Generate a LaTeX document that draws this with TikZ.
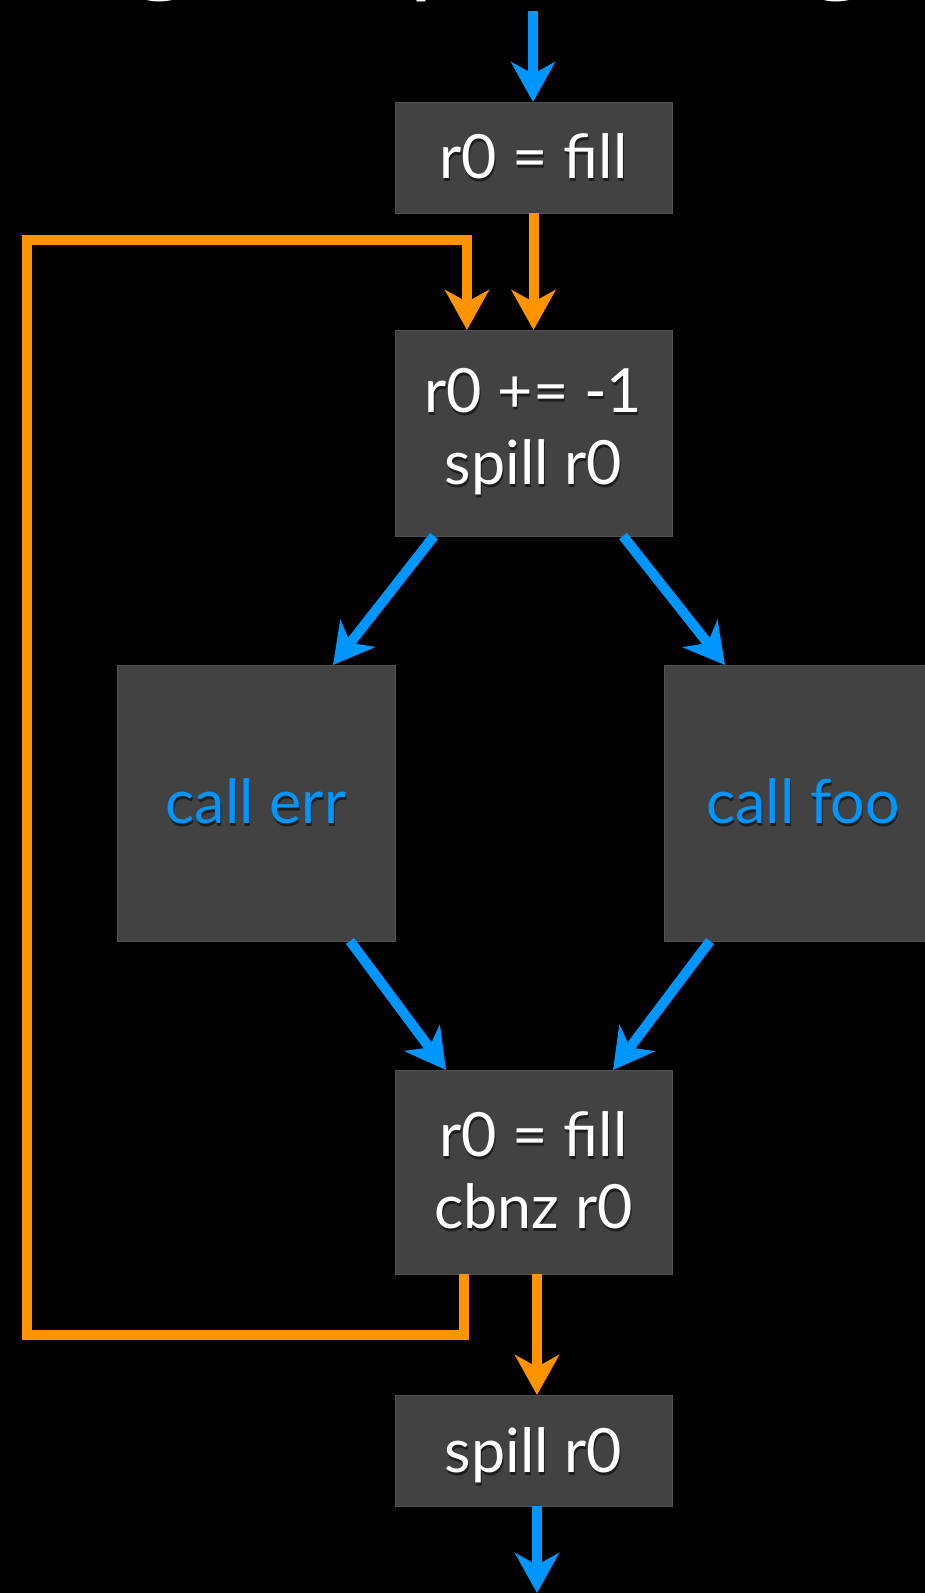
\documentclass[tikz,border=0pt]{standalone}
\usepackage{fontspec}
\setmainfont{Lato}
\newfontfamily\titlefont{Open Sans}
\usetikzlibrary{arrows.meta,calc}
\definecolor{boxgray}{RGB}{66,66,66}
\definecolor{boxedge}{RGB}{82,82,82}
\definecolor{flowblue}{RGB}{0,150,255}
\definecolor{floworange}{RGB}{255,147,0}
\definecolor{shadowc}{RGB}{30,30,30}
\newcommand\sht[1]{\makebox[0pt][l]{\raisebox{-3pt}{\hspace{1pt}\textcolor{shadowc}{#1}}}#1}
\tikzset{
  box/.style={draw=boxedge, line width=1pt, fill=boxgray, inner sep=0pt, outer sep=0pt,
    text=white, align=center, font=\fontsize{61}{72}\selectfont, minimum width=277pt},
  bluetext/.style={text=flowblue},
  flow/.style={line width=10pt, -{Stealth[length=40pt,width=44pt,inset=12pt]}},
  blueflow/.style={flow, draw=flowblue, fill=flowblue},
  orangeflow/.style={flow, draw=floworange, fill=floworange},
  titleglyph/.style={text=white, inner sep=0pt, outer sep=0pt, font=\titlefont\fontsize{110}{110}\selectfont}
}
\begin{document}
\begin{tikzpicture}[x=1pt,y=-1pt]
\useasboundingbox (0,0) rectangle (925,1593);
\fill[black] (0,0) rectangle (925,1593);

% cut-off title glyphs
\node[titleglyph, anchor=base] (tg1) at (163,-25) {g};
\node[titleglyph, anchor=base west] (tp) at (407,-25) {p};
\node[titleglyph, anchor=base] (tg2) at (840,-25) {g};

% boxes
\node[box, minimum height=111pt] (b1) at (533.5,157.5) {\sht{r0 = fill}};
\node[box, minimum height=206pt] (b2) at (533.5,433) {\sht{r0 += -1}\\\sht{spill r0}};
\node[box, bluetext, minimum width=278pt, minimum height=276pt] (err) at (256,803) {\sht{call err}};
\node[box, bluetext, minimum width=278pt, minimum height=276pt] (foo) at (803,803) {\sht{call foo}};
\node[box, minimum height=204pt] (b4) at (533.5,1172) {\sht{r0 = fill}\\\sht{cbnz r0}};
\node[box, minimum height=111pt, text depth=0pt] (b5) at (533.5,1450.5) {\sht{spill r0}};

% coordinates
\coordinate (in) at (533,11);
\coordinate (out) at (537,1593);
\coordinate (lb) at (464,1335);
\coordinate (lt) at (467,240);
\coordinate (lbl) at (27,1335);
\coordinate (ltl) at (27,240);

% connectors
\draw[blueflow] (in) -- (in |- b1.north);
\draw[orangeflow] (b1.south) -- (b2.north);
\draw[floworange, line width=10pt, -{Stealth[length=40pt,width=44pt,inset=12pt]}]
  (lb |- b4.south) -- (lb) -- (lbl) -- (ltl) -- (lt) -- (lt |- b2.north);
\draw[blueflow] ($(b2.south)+(-99.5,0)$) -- ($(err.north)+(77,0)$);
\draw[blueflow] ($(b2.south)+(89.5,0)$) -- ($(foo.north)+(-78,0)$);
\draw[blueflow] ($(err.south)+(94,0)$) -- ($(b4.north)+(-87.5,0)$);
\draw[blueflow] ($(foo.south)+(-93,0)$) -- ($(b4.north)+(79.5,0)$);
\draw[orangeflow] (out |- b4.south) -- (out |- b5.north);
\draw[blueflow] (out |- b5.south) -- (out);
\end{tikzpicture}
\end{document}
